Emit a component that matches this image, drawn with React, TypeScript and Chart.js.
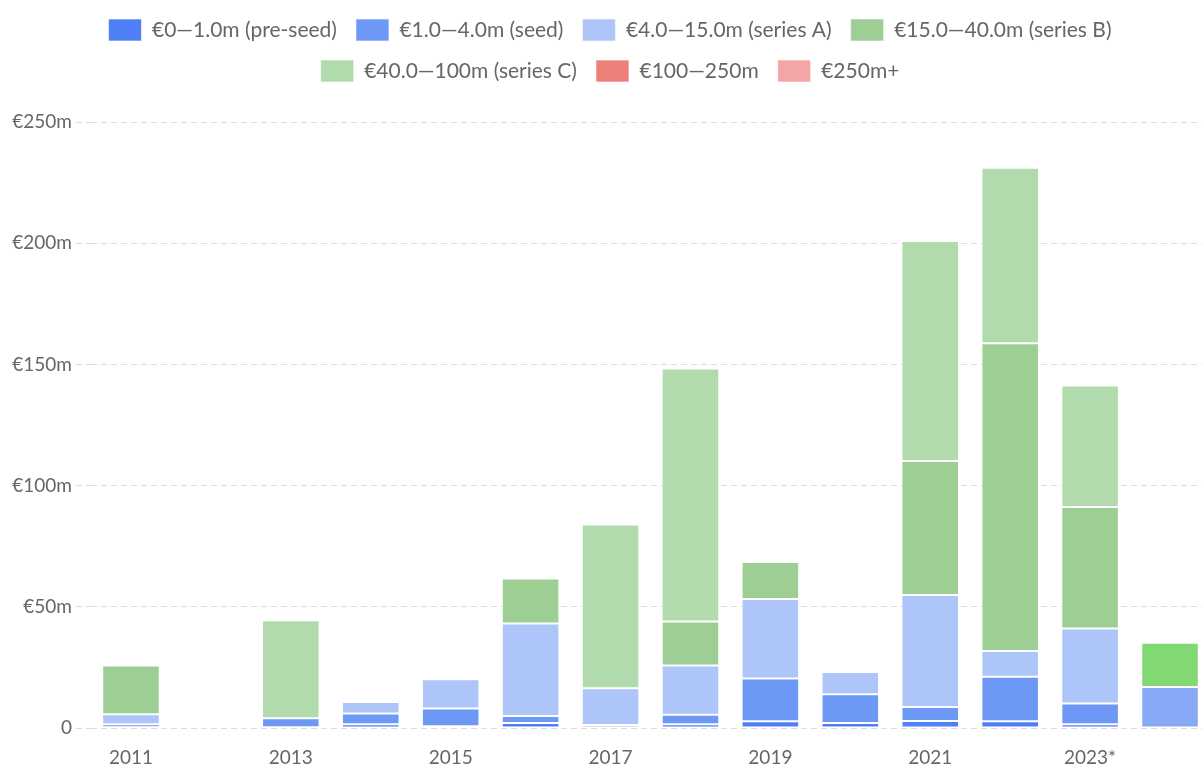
import React, { useEffect, useRef } from 'react';
import { Chart, registerables } from 'chart.js';

Chart.register(...registerables);

// ---- data (values in € millions) ----
const years = ['2011', '2012', '2013', '2014', '2015', '2016', '2017', '2018', '2019', '2020', '2021', '2022', '2023*', '2024'];
const preSeed = [0.3, 0, 0.3, 1.5, 0.7, 2.1, 0.3, 1.5, 2.8, 2.1, 2.9, 2.8, 1.5, 0];
const seed = [1.2, 0, 3.7, 4.5, 7.3, 2.8, 0.9, 4.0, 17.6, 11.8, 5.8, 18.3, 8.6, 16.9];
const seriesA = [4.2, 0, 0, 4.7, 12.1, 38.2, 15.2, 20.3, 32.8, 9.2, 46.2, 10.7, 30.9, 0];
const seriesB = [20.1, 0, 0, 0, 0, 18.6, 0, 18.1, 15.3, 0, 55.3, 126.9, 50.2, 18.3];
const seriesC = [0, 0, 40.5, 0, 0, 0, 67.6, 104.4, 0, 0, 90.7, 72.4, 50.1, 0];
const round100to250 = [0, 0, 0, 0, 0, 0, 0, 0, 0, 0, 0, 0, 0, 0];
const round250plus = [0, 0, 0, 0, 0, 0, 0, 0, 0, 0, 0, 0, 0, 0];
const seriesNames = [
  '€0—1.0m (pre-seed)',
  '€1.0—4.0m (seed)',
  '€4.0—15.0m (series A)',
  '€15.0—40.0m (series B)',
  '€40.0—100m (series C)',
  '€100—250m',
  '€250m+',
];
const yTickValues = [0, 50, 100, 150, 200, 250];
const highlightIndex = 13;

const COLORS = ['#5080f5', '#6e98f5', '#adc5f8', '#9dcf95', '#b2dbad', '#ee807a', '#f2a6a5'];
const HIGHLIGHT = ['#5080f5', '#87a8f5', '#adc5f8', '#82d872', '#b2dbad', '#ee807a', '#f2a6a5'];

const FONT = 'Lato, "Open Sans", sans-serif';
const TEXT = '#666666';
const GRID = '#dcdcdc';

export default function App() {
  const ref = useRef<HTMLCanvasElement | null>(null);

  useEffect(() => {
    document.body.style.overflow = 'hidden';
    const canvas = ref.current;
    if (!canvas) return;
    const seriesData = [preSeed, seed, seriesA, seriesB, seriesC, round100to250, round250plus];

    const legendShift = {
      id: 'legendShift',
      afterLayout(chart: any) {
        const l = chart.legend;
        if (l) {
          l.left += 5;
          l.right += 5;
        }
      },
    };

    const chart = new Chart(canvas, {
      type: 'bar',
      data: {
        labels: years,
        datasets: seriesData.map((d, i) => ({
          label: seriesNames[i],
          data: d,
          backgroundColor: (ctx: any) =>
            ctx.dataIndex === highlightIndex ? HIGHLIGHT[i] : COLORS[i],
          borderColor: 'rgba(255,255,255,0.6)',
          borderWidth: 1,
          borderSkipped: false,
          stack: 's',
        })),
      },
      options: {
        responsive: false,
        animation: false,
        events: [],
        layout: { padding: 0 },
        plugins: {
          legend: {
            position: 'top',
            align: 'center',
            labels: {
              boxWidth: 33,
              boxHeight: 22,
              padding: 19,
              color: TEXT,
              font: { family: FONT, size: 21 },
            },
          },
          tooltip: { enabled: false },
        },
        scales: {
          x: {
            stacked: true,
            grid: { display: false, drawTicks: false },
            border: { display: false },
            ticks: {
              autoSkip: false,
              maxRotation: 0,
              padding: 18,
              color: TEXT,
              font: { family: FONT, size: 19 },
              callback: (_v: any, i: number) => (i % 2 === 0 ? years[i] : ''),
            },
            afterFit: (s: any) => {
              s.height = 39;
            },
          },
          spacer: {
            type: 'category',
            position: 'top',
            grid: { display: false, drawTicks: false },
            border: { display: false },
            ticks: { display: false },
            afterFit: (s: any) => {
              s.height = 30;
            },
          },
          y: {
            stacked: true,
            min: 0,
            max: 250,
            border: { display: false, dash: [6, 4] },
            grid: {
              color: GRID,
              lineWidth: 1,
              drawTicks: true,
              tickLength: 15,
              tickColor: GRID,
              tickBorderDash: [6, 4],
            },
            ticks: {
              padding: 4,
              color: TEXT,
              font: { family: FONT, size: 19 },
              callback: (v: any) => (v === 0 ? '0' : '€' + v + 'm'),
            },
            afterBuildTicks: (s: any) => {
              s.ticks = yTickValues.map((v) => ({ value: v }));
            },
            afterFit: (s: any) => {
              s.width = 91;
            },
          },
        },
      },
      plugins: [legendShift],
    } as any);

    return () => chart.destroy();
  }, []);

  return (
    <div
      style={{
        position: 'fixed',
        left: 0,
        top: 0,
        width: 1202,
        height: 767,
        overflow: 'hidden',
        background: '#ffffff',
      }}
    >
      <canvas ref={ref} width={1210} height={767} style={{ display: 'block' }} />
    </div>
  );
}
